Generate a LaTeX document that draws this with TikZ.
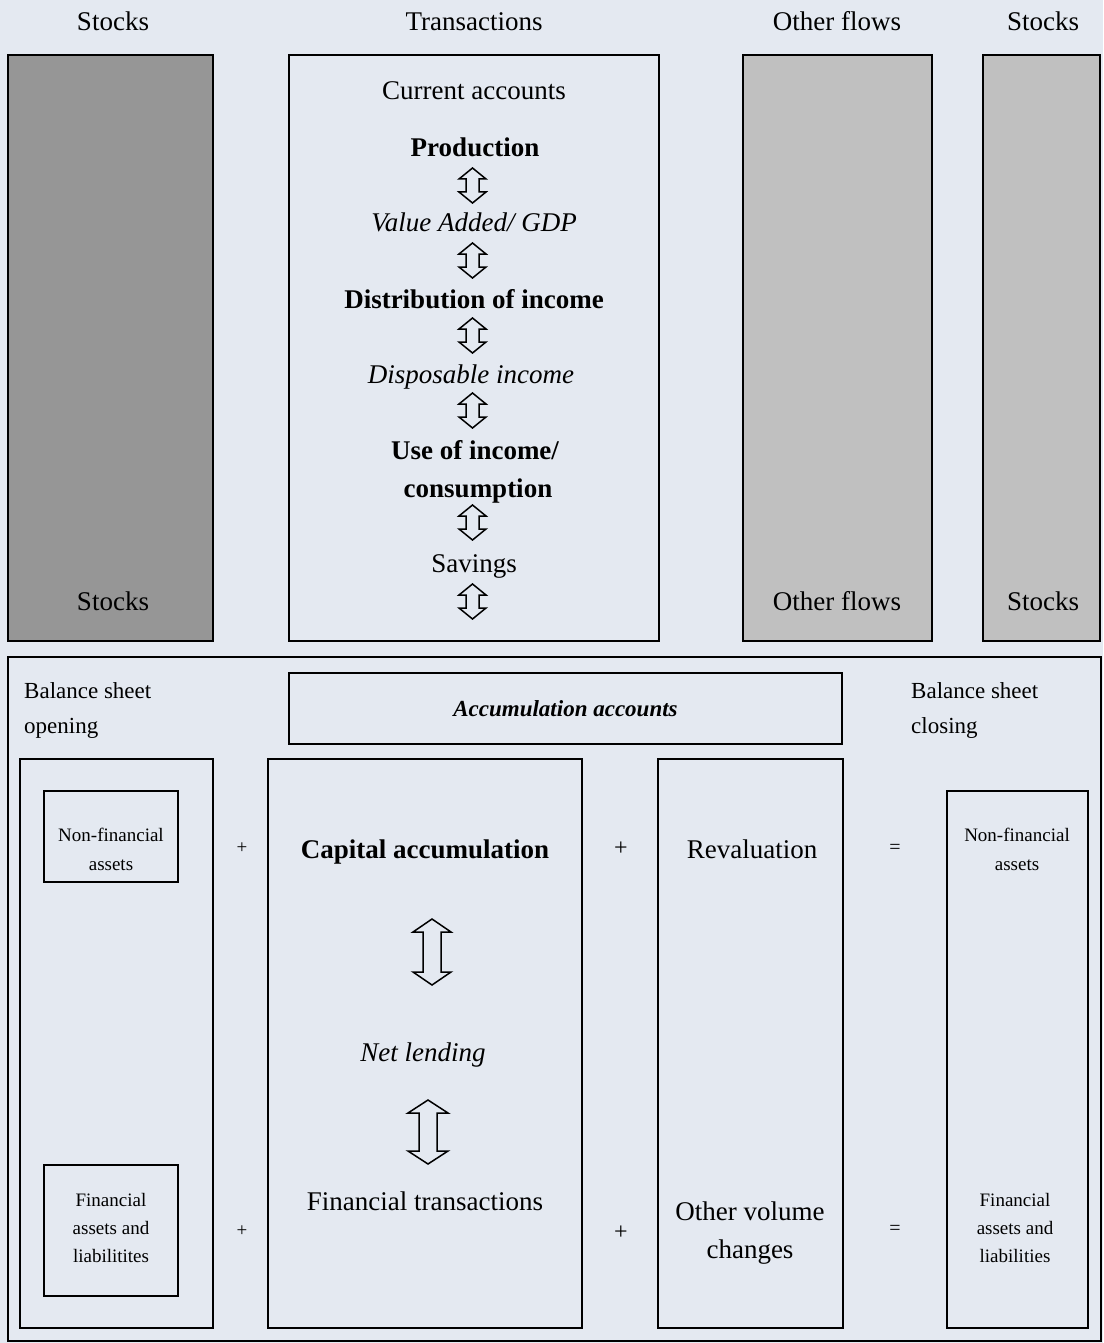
\documentclass[tikz,border=0pt]{standalone}
\usepackage{fontspec}
\setmainfont{Liberation Serif}
\definecolor{bg}{HTML}{E4E9F1}
\definecolor{dgrey}{HTML}{969696}
\definecolor{lgrey}{HTML}{C0C0C0}
\newcommand\dblarr[6]{\draw[arrowline,shift={(#1,#2)}] (0,-#3) -- (#4,-#3+#6) -- (#5,-#3+#6) -- (#5,#3-#6) -- (#4,#3-#6) -- (0,#3) -- (-#4,#3-#6) -- (-#5,#3-#6) -- (-#5,-#3+#6) -- (-#4,-#3+#6) -- cycle;}
\newcommand\boxat[6]{\node[#1, minimum width={#4-#2}, minimum height={#5-#3}] (#6) at ({(#2+#4)/2},{(#3+#5)/2}) {};}
\begin{document}
\begin{tikzpicture}[x=1pt,y=-1pt,
  frame/.style={draw=black,line width=2pt,rectangle,inner sep=0pt,outer sep=0pt},
  arrowline/.style={draw=black,line width=1.5pt,fill=bg,line join=miter},
  big/.style={inner sep=0pt,anchor=base,font=\fontsize{27}{32}\selectfont},
  mid/.style={inner sep=0pt,anchor=base west,font=\fontsize{23}{28}\selectfont},
  small/.style={inner sep=0pt,anchor=base,font=\fontsize{19}{23}\selectfont},
  sign/.style={inner sep=0pt,anchor=center,font=\fontsize{20}{24}\selectfont}]
\useasboundingbox[fill=bg] (0,0) rectangle (1103,1343);
% headers
\node[big] (h1) at (113,31) {Stocks};
\node[big] (h2) at (474,31) {Transactions};
\node[big] (h3) at (837,31) {Other flows};
\node[big] (h4) at (1043,31) {Stocks};
% top boxes
\boxat{frame,fill=dgrey}{8}{55}{213}{641}{stockA}
\boxat{frame}{289}{55}{659}{641}{trans}
\boxat{frame,fill=lgrey}{743}{55}{932}{641}{oflow}
\boxat{frame,fill=lgrey}{983}{55}{1100}{641}{stockB}
\node[big] (s1) at (113,610) {Stocks};
\node[big] (o1) at (837,610) {Other flows};
\node[big] (s2) at (1043,610) {Stocks};
% current accounts
\node[big] (ca) at (474,100) {Current accounts};
\node[big,font=\fontsize{27}{32}\selectfont\bfseries] (prod) at (475,157) {Production};
\node[big,font=\fontsize{27}{32}\selectfont\itshape] (va) at (474,231) {Value Added/ GDP};
\node[big,font=\fontsize{27}{32}\selectfont\bfseries] (dist) at (474,308) {Distribution of income};
\node[big,font=\fontsize{27}{32}\selectfont\itshape] (disp) at (471,383) {Disposable income};
\node[big,font=\fontsize{27}{32}\selectfont\bfseries] (use1) at (475,459) {Use of income/};
\node[big,font=\fontsize{27}{32}\selectfont\bfseries] (use2) at (478,497) {consumption};
\node[big] (sav) at (474,572) {Savings};
\dblarr{472.5}{185.5}{17.5}{13.5}{6.5}{11}
\dblarr{472.5}{260.5}{17.5}{13.5}{6.5}{11}
\dblarr{472.5}{335.5}{17.5}{13.5}{6.5}{11}
\dblarr{472.5}{410.5}{17.5}{13.5}{6.5}{11}
\dblarr{472.5}{522.5}{17.5}{13.5}{6.5}{11}
\dblarr{472.5}{601.5}{17.5}{13.5}{6.5}{11}
% bottom
\boxat{frame}{8}{657}{1101}{1341}{accum}
\boxat{frame}{289}{673}{842}{744}{acctitle}
\node[inner sep=0pt,anchor=center,font=\fontsize{23}{28}\selectfont\bfseries\itshape] (acct) at (acctitle) {Accumulation accounts};
\node[mid] (bso1) at (24,698) {Balance sheet};
\node[mid] (bso2) at (24,733) {opening};
\node[mid] (bsc1) at (911,698) {Balance sheet};
\node[mid] (bsc2) at (911,733) {closing};
\boxat{frame}{20}{759}{213}{1328}{open}
\boxat{frame}{44}{791}{178}{882}{onf}
\boxat{frame}{44}{1165}{178}{1296}{ofin}
\boxat{frame}{268}{759}{582}{1328}{cap}
\boxat{frame}{658}{759}{843}{1328}{rev}
\boxat{frame}{947}{791}{1088}{1328}{close}
\node[small] (onf1) at (111,841) {Non-financial};
\node[small] (onf2) at (111,870) {assets};
\node[small] (of1) at (111,1206) {Financial};
\node[small] (of2) at (111,1234) {assets and};
\node[small] (of3) at (111,1262) {liabilitites};
\node[small] (cnf1) at (1017,841) {Non-financial};
\node[small] (cnf2) at (1017,870) {assets};
\node[small] (cf1) at (1015,1206) {Financial};
\node[small] (cf2) at (1015,1234) {assets and};
\node[small] (cf3) at (1015,1262) {liabilities};
\node[sign,font=\fontsize{19}{22}\selectfont] (p1) at (242,848) {+};
\node[sign,font=\fontsize{19}{22}\selectfont] (p2) at (242,1231) {+};
\node[sign,font=\fontsize{24}{28}\selectfont] (p3) at (621,849) {+};
\node[sign,font=\fontsize{24}{28}\selectfont] (p4) at (621,1233) {+};
\node[sign] (e1) at (895,849) {=};
\node[sign] (e2) at (895,1230) {=};
\node[big,font=\fontsize{27}{32}\selectfont\bfseries] (capacc) at (425,858) {Capital accumulation};
\node[big,font=\fontsize{27}{32}\selectfont\itshape] (netl) at (423,1061) {Net lending};
\node[big] (fint) at (425,1210) {Financial transactions};
\node[big] (reval) at (752,858) {Revaluation};
\node[big] (ovc1) at (750,1220) {Other volume};
\node[big] (ovc2) at (750,1258) {changes};
\dblarr{432}{952}{33}{19}{9}{13}
\dblarr{428}{1132}{32}{20}{9}{13}
\end{tikzpicture}
\end{document}
